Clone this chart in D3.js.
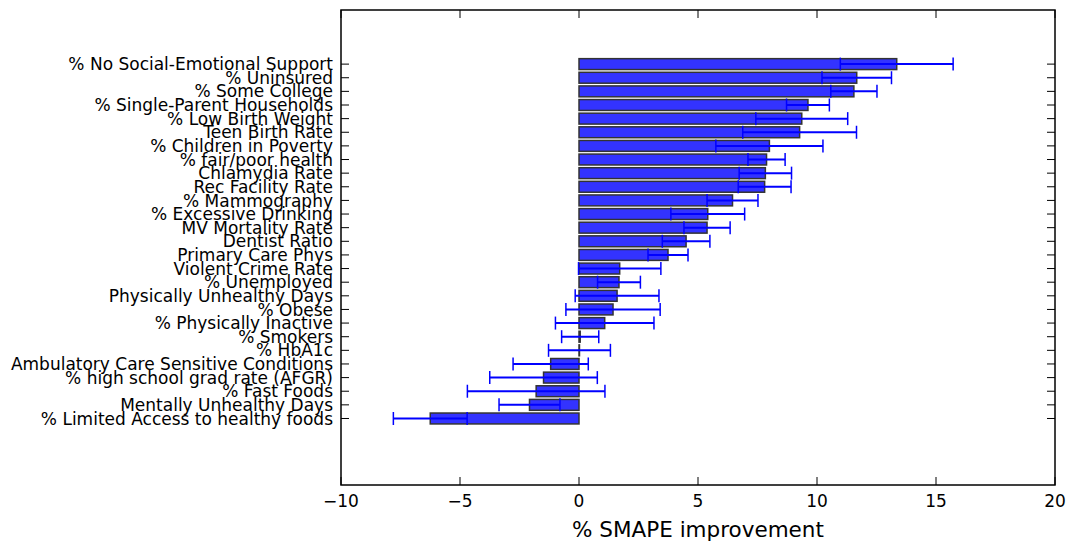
<!DOCTYPE html>
<html>
<head>
<meta charset="utf-8">
<script src="https://cdn.jsdelivr.net/npm/d3@7"></script>
<style>
  body { margin: 0; background: #fff; }
  text { font-family: "DejaVu Sans", sans-serif; }
</style>
</head>
<body>
<script>
// chart size
var width = 1070;
var height = 543;
var margin = {top: 10, right: 15, bottom: 58, left: 341};

// features, top to bottom
var features = [
  "% No Social-Emotional Support", "% Uninsured", "% Some College",
  "% Single-Parent Households", "% Low Birth Weight", "Teen Birth Rate",
  "% Children in Poverty", "% fair/poor health", "Chlamydia Rate",
  "Rec Facility Rate", "% Mammography", "% Excessive Drinking",
  "MV Mortality Rate", "Dentist Ratio", "Primary Care Phys",
  "Violent Crime Rate", "% Unemployed", "Physically Unhealthy Days",
  "% Obese", "% Physically Inactive", "% Smokers", "% HbA1c",
  "Ambulatory Care Sensitive Conditions", "% high school grad rate (AFGR)",
  "% Fast Foods", "Mentally Unhealthy Days", "% Limited Access to healthy foods"
];
// mean improvement
var improvement = [13.35, 11.67, 11.55, 9.62, 9.36, 9.27, 8.0, 7.88, 7.83,
  7.8, 6.45, 5.41, 5.38, 4.5, 3.74, 1.71, 1.68, 1.6, 1.43, 1.08, 0.05, 0.02,
  -1.19, -1.49, -1.8, -2.08, -6.25];
// error (half width)
var errors = [2.37, 1.46, 0.97, 0.9, 1.93, 2.39, 2.25, 0.78, 1.1, 1.11, 1.07,
  1.55, 0.97, 1.0, 0.84, 1.73, 0.9, 1.76, 1.98, 2.07, 0.78, 1.3, 1.58, 2.26,
  2.89, 1.28, 1.55];
var xTicks = [-10, -5, 0, 5, 10, 15, 20];

var svg = d3.select("body").append("svg")
  .attr("width", width).attr("height", height);

var x = d3.scaleLinear().domain([-10, 20])
  .range([margin.left, width - margin.right]);
// index 0 is the top bar
var y = d3.scaleLinear().domain([-3.97, 30.88])
  .range([margin.top, height - margin.bottom]);
var barH = y(0.8) - y(0);

var plot = svg.append("g");

// bars
plot.selectAll("rect.bar").data(improvement).enter().append("rect")
  .attr("class", "bar")
  .attr("x", d => x(Math.min(0, d)))
  .attr("width", d => Math.abs(x(d) - x(0)))
  .attr("y", (d, i) => y(i) - barH / 2)
  .attr("height", barH)
  .attr("fill", "#3333ff")
  .attr("stroke", "#333")
  .attr("stroke-width", 1.5);

// error bars
var eb = plot.selectAll("g.err").data(improvement).enter().append("g")
  .attr("class", "err");
eb.append("line")
  .attr("x1", (d, i) => x(d - errors[i])).attr("x2", (d, i) => x(d + errors[i]))
  .attr("y1", (d, i) => y(i)).attr("y2", (d, i) => y(i))
  .attr("stroke", "#0000ff").attr("stroke-width", 2);
[-1, 1].forEach(function(s) {
  eb.append("line")
    .attr("x1", (d, i) => x(d + s * errors[i])).attr("x2", (d, i) => x(d + s * errors[i]))
    .attr("y1", (d, i) => y(i) - 6.5).attr("y2", (d, i) => y(i) + 6.5)
    .attr("stroke", "#0000ff").attr("stroke-width", 1.5);
});

var yTop = margin.top, yBottom = height - margin.bottom;
var xLeft = margin.left, xRight = width - margin.right;

// x ticks (inward, top and bottom)
xTicks.forEach(function(t) {
  svg.append("line").attr("x1", x(t)).attr("x2", x(t))
    .attr("y1", yBottom).attr("y2", yBottom - 8).attr("stroke", "black");
  svg.append("line").attr("x1", x(t)).attr("x2", x(t))
    .attr("y1", yTop).attr("y2", yTop + 8).attr("stroke", "black");
  svg.append("text").attr("x", x(t)).attr("y", yBottom + 22)
    .attr("text-anchor", "middle").attr("font-size", 17)
    .text(t < 0 ? "\u2212" + Math.abs(t) : t);
});

// y ticks and labels
features.forEach(function(f, i) {
  svg.append("line").attr("x1", xLeft).attr("x2", xLeft + 8)
    .attr("y1", y(i)).attr("y2", y(i)).attr("stroke", "black");
  svg.append("line").attr("x1", xRight).attr("x2", xRight - 8)
    .attr("y1", y(i)).attr("y2", y(i)).attr("stroke", "black");
  svg.append("text").attr("x", xLeft - 8).attr("y", y(i)).attr("dy", "0.36em")
    .attr("text-anchor", "end").attr("font-size", 17).text(f);
});

// frame
svg.append("rect").attr("x", xLeft).attr("y", yTop)
  .attr("width", xRight - xLeft).attr("height", yBottom - yTop)
  .attr("fill", "none").attr("stroke", "black").attr("stroke-width", 1.5);

// axis title
svg.append("text").attr("x", (xLeft + xRight) / 2).attr("y", 537)
  .attr("text-anchor", "middle").attr("font-size", 21.5)
  .text("% SMAPE improvement");
</script>
</body>
</html>
